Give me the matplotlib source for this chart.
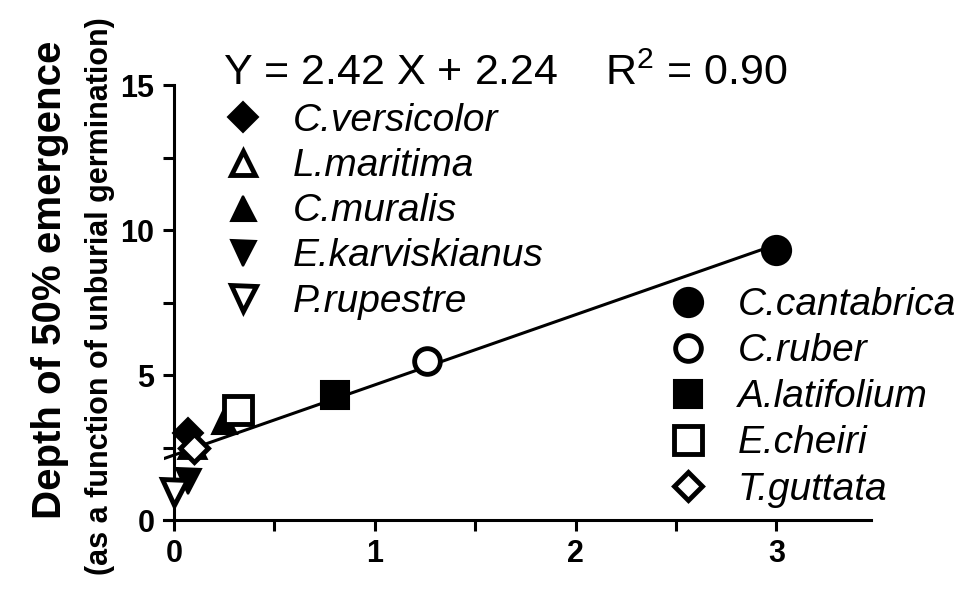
import numpy as np
import matplotlib
matplotlib.use('Agg')
import matplotlib.pyplot as plt
from matplotlib.ticker import MultipleLocator

# species, x = value, y = depth of 50% emergence
species = ['C.versicolor', 'L.maritima', 'C.muralis', 'E.karviskianus', 'P.rupestre',
           'C.cantabrica', 'C.ruber', 'A.latifolium', 'E.cheiri', 'T.guttata']
x_vals = [0.07, 0.09, 0.25, 0.07, 0.0, 3.0, 1.26, 0.80, 0.32, 0.10]
y_vals = [3.0, 2.6, 3.4, 1.35, 0.95, 9.3, 5.5, 4.3, 3.8, 2.5]
markers = ['D', '^', '^', 'v', 'v', 'o', 'o', 's', 's', 'D']
filled = [True, False, True, True, False, True, False, True, False, False]
msizes = [15, 17, 18, 18, 18, 21, 18.5, 20, 20, 14]

slope = 2.42
intercept = 2.24
r2 = 0.90
fit_x = [-0.05, 3.0]

plt.rcParams['font.family'] = ['Liberation Sans', 'DejaVu Sans']
plt.rcParams['mathtext.fontset'] = 'custom'
plt.rcParams['mathtext.rm'] = 'Liberation Sans'

fig = plt.figure(figsize=(9.6, 5.92), dpi=100)
ax = fig.add_axes([0.1708, 0.1216, 0.907 - 0.1708, 0.8564 - 0.1216])

# regression line
fx = np.array(fit_x)
ax.plot(fx, slope * fx + intercept, color='black', lw=2.2, zorder=2)

handles = []
for i in range(len(species)):
    if filled[i]:
        h, = ax.plot(x_vals[i], y_vals[i], linestyle='none', marker=markers[i],
                     ms=msizes[i], mfc='black', mec='black', mew=1.5,
                     clip_on=False, zorder=3, label=species[i])
    else:
        h, = ax.plot(x_vals[i], y_vals[i], linestyle='none', marker=markers[i],
                     ms=msizes[i], mfc='white', mec='black', mew=3.5,
                     clip_on=False, zorder=3, label=species[i])
    handles.append(h)

ax.set_xlim(-0.05, 3.47)
ax.set_ylim(0, 15)
ax.spines['left'].set_position(('data', 0))
ax.spines['top'].set_visible(False)
ax.spines['right'].set_visible(False)
ax.spines['left'].set_linewidth(2.2)
ax.spines['bottom'].set_linewidth(2.2)
ax.spines['left'].set_bounds(0, 15)
ax.xaxis.set_major_locator(MultipleLocator(1))
ax.xaxis.set_minor_locator(MultipleLocator(0.5))
ax.yaxis.set_major_locator(MultipleLocator(5))
ax.yaxis.set_minor_locator(MultipleLocator(2.5))
ax.tick_params(which='both', direction='out', length=8, width=2.2)
ax.tick_params(which='major', labelsize=22, pad=6)
for lab in ax.get_xticklabels() + ax.get_yticklabels():
    lab.set_fontweight('bold')

fig.text(0.052, 0.527, 'Depth of 50% emergence', rotation=90, ha='center',
         va='center', fontsize=29, fontweight='bold')
fig.text(0.104, 0.5, '(as a function of unburial germination)', rotation=90,
         ha='center', va='center', fontsize=22, fontweight='bold')

fig.text(0.527, 0.875, 'Y = %.2f X + %.2f    R$^{2}$ = %.2f' % (slope, intercept, r2),
         ha='center', va='center', fontsize=31)

leg1 = ax.legend(handles=handles[:5], loc='upper left',
                 bbox_to_anchor=(0.2328, 0.826), bbox_transform=fig.transFigure,
                 frameon=False, borderpad=0, borderaxespad=0, handlelength=1.0,
                 handletextpad=0.785, labelspacing=0.235, numpoints=1,
                 prop={'size': 28, 'style': 'italic'})
ax.add_artist(leg1)
ax.legend(handles=handles[5:], loc='upper left',
          bbox_to_anchor=(0.6964, 0.515), bbox_transform=fig.transFigure,
          frameon=False, borderpad=0, borderaxespad=0, handlelength=1.0,
          handletextpad=0.785, labelspacing=0.26, numpoints=1,
          prop={'size': 28, 'style': 'italic'})

fig.savefig('out.png', dpi=100)
